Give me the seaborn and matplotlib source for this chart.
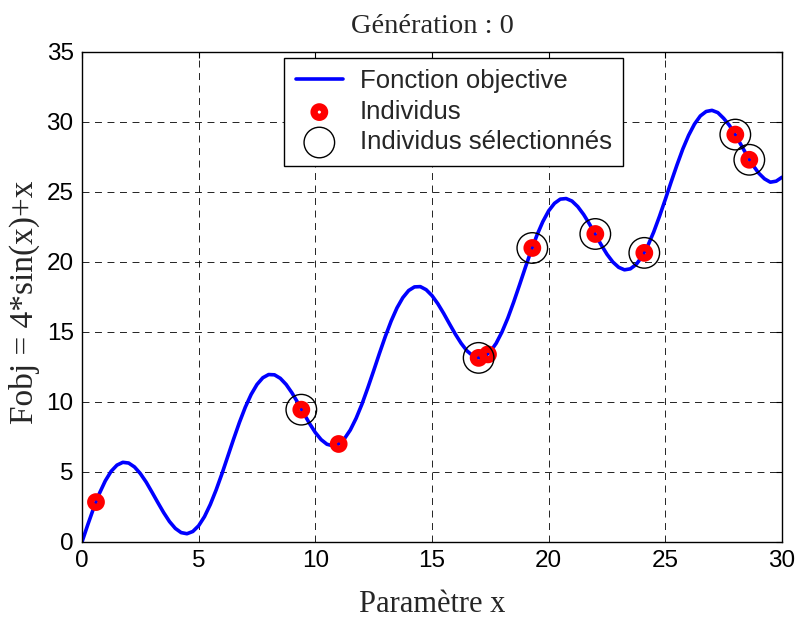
import numpy as np
import pandas as pd
import matplotlib
matplotlib.use("Agg")
import matplotlib.pyplot as plt
import seaborn as sns

# Objective function sampled along the parameter axis
x_curve = [0.0, 0.25, 0.5, 0.75, 1.0, 1.25, 1.5, 1.75, 2.0, 2.25, 2.5, 2.75, 3.0, 3.25,
           3.5, 3.75, 4.0, 4.25, 4.5, 4.75, 5.0, 5.25, 5.5, 5.75, 6.0, 6.25, 6.5, 6.75,
           7.0, 7.25, 7.5, 7.75, 8.0, 8.25, 8.5, 8.75, 9.0, 9.25, 9.5, 9.75, 10.0, 10.25,
           10.5, 10.75, 11.0, 11.25, 11.5, 11.75, 12.0, 12.25, 12.5, 12.75, 13.0, 13.25,
           13.5, 13.75, 14.0, 14.25, 14.5, 14.75, 15.0, 15.25, 15.5, 15.75, 16.0, 16.25,
           16.5, 16.75, 17.0, 17.25, 17.5, 17.75, 18.0, 18.25, 18.5, 18.75, 19.0, 19.25,
           19.5, 19.75, 20.0, 20.25, 20.5, 20.75, 21.0, 21.25, 21.5, 21.75, 22.0, 22.25,
           22.5, 22.75, 23.0, 23.25, 23.5, 23.75, 24.0, 24.25, 24.5, 24.75, 25.0, 25.25,
           25.5, 25.75, 26.0, 26.25, 26.5, 26.75, 27.0, 27.25, 27.5, 27.75, 28.0, 28.25,
           28.5, 28.75, 29.0, 29.25, 29.5, 29.75, 30.0]
y_curve = [0.00, 1.24, 2.42, 3.48, 4.37, 5.05, 5.49, 5.69, 5.64, 5.36, 4.89, 4.28, 3.56,
           2.82, 2.10, 1.46, 0.97, 0.67, 0.59, 0.75, 1.16, 1.81, 2.68, 3.72, 4.88, 6.12,
           7.36, 8.55, 9.63, 10.54, 11.25, 11.73, 11.96, 11.94, 11.69, 11.25, 10.65, 9.95,
           9.20, 8.47, 7.82, 7.31, 6.98, 6.87, 7.00, 7.38, 8.00, 8.84, 9.85, 11.01, 12.23,
           13.48, 14.68, 15.78, 16.72, 17.45, 17.96, 18.22, 18.24, 18.02, 17.60, 17.02,
           16.33, 15.58, 14.85, 14.19, 13.65, 13.30, 13.15, 13.25, 13.60, 14.19, 15.00,
           15.99, 17.13, 18.35, 19.60, 20.81, 21.92, 22.88, 23.65, 24.19, 24.49, 24.53,
           24.35, 23.95, 23.39, 22.71, 21.96, 21.23, 20.55, 20.00, 19.62, 19.44, 19.51,
           19.82, 20.38, 21.16, 22.13, 23.26, 24.47, 25.72, 26.93, 28.07, 29.05, 29.85,
           30.43, 30.75, 30.83, 30.67, 30.26, 29.75, 29.08, 28.35, 27.61, 26.92, 26.35,
           25.94, 25.70, 25.77, 26.05]

# Population of the current generation
x_ind = [0.6, 9.4, 11.0, 17.0, 17.4, 19.3, 22.0, 24.1, 28.0, 28.6]
y_ind = [2.85, 9.45, 7.0, 13.15, 13.4, 21.0, 22.0, 20.65, 29.1, 27.3]

# Individuals kept by the selection step
x_sel = [9.4, 17.0, 19.3, 22.0, 24.1, 28.0, 28.6]
y_sel = [9.45, 13.15, 21.0, 22.0, 20.65, 29.1, 27.3]

x_ticks = [0, 5, 10, 15, 20, 25, 30]
y_ticks = [0, 5, 10, 15, 20, 25, 30, 35]

sns.set_style("white")
plt.rcParams["font.family"] = ["Liberation Sans", "DejaVu Sans"]
plt.rcParams["lines.scale_dashes"] = False

fig = plt.figure(figsize=(7.99, 6.18), dpi=100)
ax = fig.add_axes([0.1026, 0.123, 0.8761, 0.7929])

curve = pd.DataFrame({"x": x_curve, "y": y_curve})
sns.lineplot(data=curve, x="x", y="y", ax=ax, color=(0, 0, 1), linewidth=2.6,
             sort=False, estimator=None, label="Fonction objective", zorder=2)

ind = pd.DataFrame({"x": x_ind, "y": y_ind})
sns.scatterplot(data=ind, x="x", y="y", ax=ax, marker="o", s=7.6 ** 2,
                facecolors="none", edgecolor="red", linewidth=5.2,
                label="Individus", zorder=3)

sel = pd.DataFrame({"x": x_sel, "y": y_sel})
sns.scatterplot(data=sel, x="x", y="y", ax=ax, marker="o", s=22 ** 2,
                facecolors="none", edgecolor="black", linewidth=1.0,
                label="Individus sélectionnés", zorder=4)

ax.set_xlim(0, 30)
ax.set_ylim(0, 35)
ax.set_xticks(x_ticks)
ax.set_yticks(y_ticks)
ax.tick_params(direction="in", length=4.5, width=0.8, top=True, right=True,
               labelsize=17.5, colors="black", pad=6)
for sp in ax.spines.values():
    sp.set_color("black")
    sp.set_linewidth(1.0)

ax.grid(True, color="black", linewidth=0.6, linestyle=(0, (5.0, 4.0)))
ax.set_axisbelow(True)

serif = ["Liberation Serif", "DejaVu Serif"]
ax.set_title("Génération : 0", family=serif, fontsize=20.5, pad=14)
ax.set_xlabel("Paramètre x", family=serif, fontsize=22, labelpad=13)
ax.set_ylabel("Fobj = 4*sin(x)+x", family=serif, fontsize=24, labelpad=5)
ax.yaxis.label.set_y(0.49)

leg = ax.legend(loc="upper left", bbox_to_anchor=(0.2886, 0.988), borderaxespad=0,
                fontsize=18.5, frameon=True, fancybox=False, framealpha=1,
                edgecolor="black", labelspacing=0.25, handlelength=1.85,
                handletextpad=0.65, borderpad=0.45)
leg.get_frame().set_linewidth(1.0)

fig.savefig("out.png", dpi=100)
